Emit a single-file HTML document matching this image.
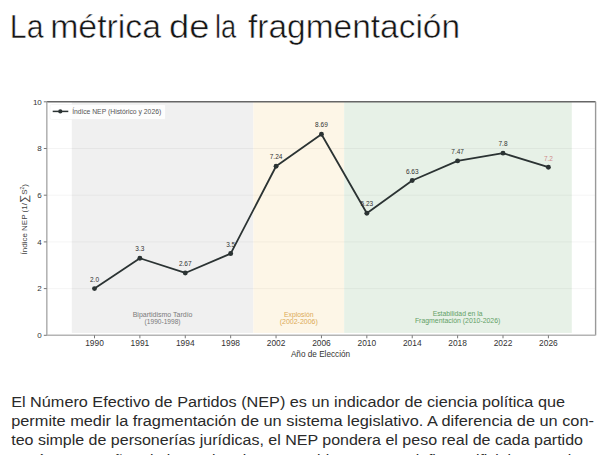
<!DOCTYPE html>
<html><head><meta charset="utf-8">
<style>
html,body{margin:0;padding:0;background:#fff;}
body{width:600px;height:455px;overflow:hidden;position:relative;}
svg{position:absolute;left:0;top:0;font-family:"Liberation Sans",sans-serif;}
</style></head><body>
<svg width="600" height="455" viewBox="0 0 600 455">
<g font-size="32.5" fill="#151515" stroke="#fff" stroke-width="0.5" paint-order="fill stroke"><text x="9.80" y="38.3" textLength="33.67" lengthAdjust="spacingAndGlyphs">La</text><text x="50.20" y="38.3" textLength="110.88" lengthAdjust="spacingAndGlyphs">métrica</text><text x="169.00" y="38.3" textLength="40.39" lengthAdjust="spacingAndGlyphs">de</text><text x="215.00" y="38.3" textLength="21.24" lengthAdjust="spacingAndGlyphs">la</text><text x="248.00" y="38.3" textLength="212.06" lengthAdjust="spacingAndGlyphs">fragmentación</text></g>
<rect x="71.81" y="101.7" width="181.56" height="231.20" fill="#f0f0f0"/>
<rect x="253.37" y="101.7" width="90.78" height="231.20" fill="#fdf6e7"/>
<rect x="344.14" y="101.7" width="227.63" height="231.20" fill="#e7f1e7"/>
<line x1="46.8" x2="595.6" y1="288.60" y2="288.60" stroke="#000" stroke-opacity="0.045" stroke-width="1"/>
<line x1="46.8" x2="595.6" y1="241.90" y2="241.90" stroke="#000" stroke-opacity="0.045" stroke-width="1"/>
<line x1="46.8" x2="595.6" y1="195.20" y2="195.20" stroke="#000" stroke-opacity="0.045" stroke-width="1"/>
<line x1="46.8" x2="595.6" y1="148.50" y2="148.50" stroke="#000" stroke-opacity="0.045" stroke-width="1"/>
<line x1="46.8" x2="595.6" y1="101.7" y2="101.7" stroke="#666" stroke-width="1.6"/>
<line x1="595.6" x2="595.6" y1="101.7" y2="335.3" stroke="#999" stroke-width="1.4"/>
<line x1="46.8" x2="46.8" y1="101.7" y2="335.3" stroke="#b4b4b4" stroke-width="1.6"/>
<line x1="46.8" x2="595.6" y1="335.3" y2="335.3" stroke="#b4b4b4" stroke-width="1.6"/>
<line x1="43.8" x2="46.8" y1="335.30" y2="335.30" stroke="#777" stroke-width="1"/>
<text x="41.8" y="338.10" text-anchor="end" font-size="8" fill="#333">0</text>
<line x1="43.8" x2="46.8" y1="288.60" y2="288.60" stroke="#777" stroke-width="1"/>
<text x="41.8" y="291.40" text-anchor="end" font-size="8" fill="#333">2</text>
<line x1="43.8" x2="46.8" y1="241.90" y2="241.90" stroke="#777" stroke-width="1"/>
<text x="41.8" y="244.70" text-anchor="end" font-size="8" fill="#333">4</text>
<line x1="43.8" x2="46.8" y1="195.20" y2="195.20" stroke="#777" stroke-width="1"/>
<text x="41.8" y="198.00" text-anchor="end" font-size="8" fill="#333">6</text>
<line x1="43.8" x2="46.8" y1="148.50" y2="148.50" stroke="#777" stroke-width="1"/>
<text x="41.8" y="151.30" text-anchor="end" font-size="8" fill="#333">8</text>
<line x1="43.8" x2="46.8" y1="101.80" y2="101.80" stroke="#777" stroke-width="1"/>
<text x="41.8" y="104.60" text-anchor="end" font-size="8" fill="#333">10</text>
<line x1="94.50" x2="94.50" y1="335.3" y2="338.3" stroke="#777" stroke-width="1"/>
<text x="94.50" y="346.30" text-anchor="middle" font-size="8.4" fill="#333">1990</text>
<line x1="139.89" x2="139.89" y1="335.3" y2="338.3" stroke="#777" stroke-width="1"/>
<text x="139.89" y="346.30" text-anchor="middle" font-size="8.4" fill="#333">1991</text>
<line x1="185.28" x2="185.28" y1="335.3" y2="338.3" stroke="#777" stroke-width="1"/>
<text x="185.28" y="346.30" text-anchor="middle" font-size="8.4" fill="#333">1994</text>
<line x1="230.67" x2="230.67" y1="335.3" y2="338.3" stroke="#777" stroke-width="1"/>
<text x="230.67" y="346.30" text-anchor="middle" font-size="8.4" fill="#333">1998</text>
<line x1="276.06" x2="276.06" y1="335.3" y2="338.3" stroke="#777" stroke-width="1"/>
<text x="276.06" y="346.30" text-anchor="middle" font-size="8.4" fill="#333">2002</text>
<line x1="321.45" x2="321.45" y1="335.3" y2="338.3" stroke="#777" stroke-width="1"/>
<text x="321.45" y="346.30" text-anchor="middle" font-size="8.4" fill="#333">2006</text>
<line x1="366.84" x2="366.84" y1="335.3" y2="338.3" stroke="#777" stroke-width="1"/>
<text x="366.84" y="346.30" text-anchor="middle" font-size="8.4" fill="#333">2010</text>
<line x1="412.23" x2="412.23" y1="335.3" y2="338.3" stroke="#777" stroke-width="1"/>
<text x="412.23" y="346.30" text-anchor="middle" font-size="8.4" fill="#333">2014</text>
<line x1="457.62" x2="457.62" y1="335.3" y2="338.3" stroke="#777" stroke-width="1"/>
<text x="457.62" y="346.30" text-anchor="middle" font-size="8.4" fill="#333">2018</text>
<line x1="503.01" x2="503.01" y1="335.3" y2="338.3" stroke="#777" stroke-width="1"/>
<text x="503.01" y="346.30" text-anchor="middle" font-size="8.4" fill="#333">2022</text>
<line x1="548.40" x2="548.40" y1="335.3" y2="338.3" stroke="#777" stroke-width="1"/>
<text x="548.40" y="346.30" text-anchor="middle" font-size="8.4" fill="#333">2026</text>
<text x="320.5" y="357.3" text-anchor="middle" font-size="8.2" fill="#333">Año de Elección</text>
<text transform="translate(27.2 254.5) rotate(-90)" font-size="8" fill="#444">Índice NEP (1/<tspan font-size="11.5" dy="0.8">∑</tspan><tspan dy="-0.8">S</tspan><tspan font-size="5" dy="-3.5">2</tspan><tspan dy="3.5">)</tspan></text>
<text x="162.59" y="316.5" text-anchor="middle" font-size="7" fill="#7a7a7a">Bipartidismo Tardío</text>
<text x="162.59" y="324" text-anchor="middle" font-size="6.6" fill="#7a7a7a">(1990-1998)</text>
<text x="298.75" y="316.5" text-anchor="middle" font-size="6.8" fill="#dcaa55">Explosión</text>
<text x="298.75" y="324" text-anchor="middle" font-size="7" fill="#dcaa55">(2002-2006)</text>
<text x="457.62" y="316.3" text-anchor="middle" font-size="6.8" fill="#629f66">Estabilidad en la</text>
<text x="457.62" y="323" text-anchor="middle" font-size="6.9" fill="#629f66">Fragmentación (2010-2026)</text>
<rect x="50" y="104.5" width="115.5" height="15" rx="1.5" fill="#fff" fill-opacity="0.85" stroke="#ececec" stroke-width="0.5"/>
<line x1="52.7" x2="68.3" y1="111.4" y2="111.4" stroke="#2b3333" stroke-width="1.5"/>
<circle cx="60.3" cy="111.4" r="2.1" fill="#2b3333"/>
<text x="72.2" y="113.8" font-size="6.8" fill="#555">Índice NEP (Histórico y 2026)</text>
<text x="94.50" y="281.80" text-anchor="middle" font-size="6.5" fill="#333">2.0</text>
<text x="139.89" y="251.44" text-anchor="middle" font-size="6.5" fill="#333">3.3</text>
<text x="185.28" y="266.16" text-anchor="middle" font-size="6.5" fill="#333">2.67</text>
<text x="230.67" y="246.77" text-anchor="middle" font-size="6.5" fill="#333">3.5</text>
<text x="276.06" y="159.45" text-anchor="middle" font-size="6.5" fill="#333">7.24</text>
<text x="321.45" y="127.46" text-anchor="middle" font-size="6.5" fill="#333">8.69</text>
<text x="366.84" y="206.38" text-anchor="middle" font-size="6.5" fill="#333">5.23</text>
<text x="412.23" y="173.69" text-anchor="middle" font-size="6.5" fill="#333">6.63</text>
<text x="457.62" y="154.08" text-anchor="middle" font-size="6.5" fill="#333">7.47</text>
<text x="503.01" y="146.37" text-anchor="middle" font-size="6.5" fill="#333">7.8</text>
<text x="548.40" y="161.38" text-anchor="middle" font-size="6.5" fill="#d08a8a">7.2</text>
<polyline points="94.50,288.60 139.89,258.25 185.28,272.96 230.67,253.57 276.06,166.25 321.45,134.26 366.84,213.18 412.23,180.49 457.62,160.88 503.01,153.17 548.40,167.18" fill="none" stroke="#2b3333" stroke-width="1.8" stroke-linejoin="round"/>
<circle cx="94.50" cy="288.60" r="2.45" fill="#2b3333"/>
<circle cx="139.89" cy="258.25" r="2.45" fill="#2b3333"/>
<circle cx="185.28" cy="272.96" r="2.45" fill="#2b3333"/>
<circle cx="230.67" cy="253.57" r="2.45" fill="#2b3333"/>
<circle cx="276.06" cy="166.25" r="2.45" fill="#2b3333"/>
<circle cx="321.45" cy="134.26" r="2.45" fill="#2b3333"/>
<circle cx="366.84" cy="213.18" r="2.45" fill="#2b3333"/>
<circle cx="412.23" cy="180.49" r="2.45" fill="#2b3333"/>
<circle cx="457.62" cy="160.88" r="2.45" fill="#2b3333"/>
<circle cx="503.01" cy="153.17" r="2.45" fill="#2b3333"/>
<circle cx="548.40" cy="167.18" r="2.45" fill="#2b3333"/>
<g font-size="15.5" fill="#2a2a2a">
<text x="11.2" y="407" textLength="553.8" lengthAdjust="spacingAndGlyphs">El Número Efectivo de Partidos (NEP) es un indicador de ciencia política que</text>
<text x="11.2" y="426" textLength="582.8" lengthAdjust="spacingAndGlyphs">permite medir la fragmentación de un sistema legislativo. A diferencia de un con-</text>
<text x="11.2" y="445" textLength="571.8" lengthAdjust="spacingAndGlyphs">teo simple de personerías jurídicas, el NEP pondera el peso real de cada partido</text>
<text x="11.2" y="465" textLength="560" lengthAdjust="spacingAndGlyphs">según su tamaño relativo, evitando que partidos menores inflen artificialmente el</text>
</g>
</svg>
</body></html>
